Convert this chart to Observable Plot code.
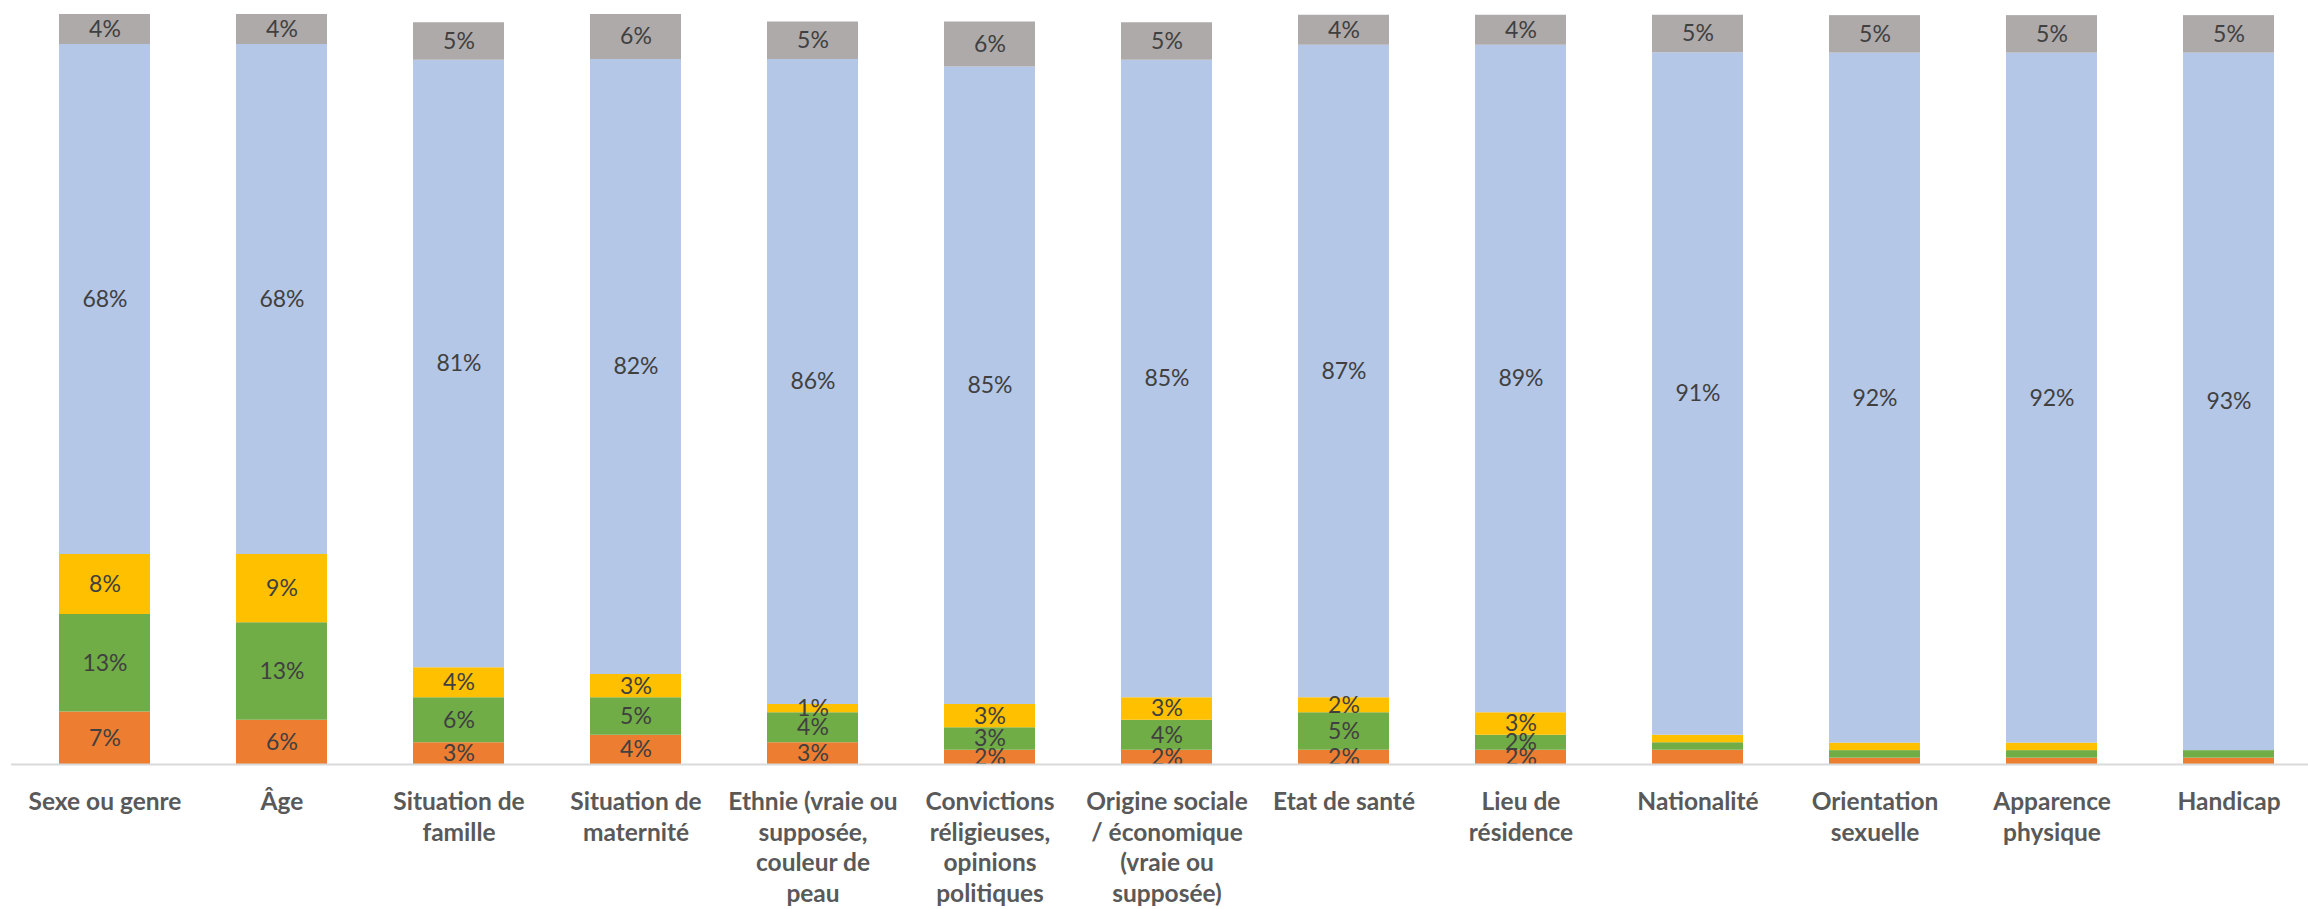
<!DOCTYPE html>
<html>
<head>
<meta charset="utf-8">
<script src="https://cdn.jsdelivr.net/npm/d3@7"></script>
<script src="https://cdn.jsdelivr.net/npm/@observablehq/plot@0.6"></script>
<style>
  html, body { margin: 0; padding: 0; background: #fff; }
  #chart svg { display: block; }
</style>
</head>
<body>
<div id="chart"></div>
<script>
// Categories (tick labels with their line breaks)
const categories = [
  "Sexe ou genre",
  "Âge",
  "Situation de\nfamille",
  "Situation de\nmaternité",
  "Ethnie (vraie ou\nsupposée,\ncouleur de\npeau",
  "Convictions\nréligieuses,\nopinions\npolitiques",
  "Origine sociale\n/ économique\n(vraie ou\nsupposée)",
  "Etat de santé",
  "Lieu de\nrésidence",
  "Nationalité",
  "Orientation\nsexuelle",
  "Apparence\nphysique",
  "Handicap"
];

// Series (bottom to top), values in %
const seriesNames = ["s1", "s2", "s3", "s4", "s5"];
const orangeValues = [7, 5.9, 2.9, 3.9, 2.9, 1.9, 1.9, 1.9, 1.9, 1.9, 0.85, 0.85, 0.85];
const greenValues  = [13, 13, 6, 5, 4, 3, 4, 5, 2, 1, 1, 1, 1];
const yellowValues = [8, 9.1, 4, 3.1, 1.1, 3.1, 3, 2, 3, 1, 1, 1, 0];
const blueValues   = [68, 68, 81, 82, 86, 85, 85, 87, 89, 91, 92, 92, 93];
const grayValues   = [4, 4, 5, 6, 5, 6, 5, 4, 4, 5, 5, 5, 5];

// whether the three bottom segments carry a data label
const smallLabelsShown = [true, true, true, true, true, true, true, true, true, false, false, false, false];

const seriesValues = [orangeValues, greenValues, yellowValues, blueValues, grayValues];
const seriesColors = ["#ED7D31", "#70AD47", "#FFC000", "#B4C7E7", "#AEAAAA"];

const data = [];
seriesNames.forEach((s, si) => {
  categories.forEach((c, ci) => {
    const v = seriesValues[si][ci];
    const show = si >= 3 || smallLabelsShown[ci];
    data.push({
      category: c,
      series: s,
      value: v,
      label: (show && v > 0) ? Math.round(v) + "%" : ""
    });
  });
});

const chart = Plot.plot({
  width: 2308,
  height: 909,
  marginTop: 14,
  marginBottom: 145,
  marginLeft: 11,
  marginRight: 0,
  style: { fontFamily: "Lato, 'Open Sans', sans-serif", background: "#fff" },
  x: {
    domain: categories,
    range: [11, 2322],
    paddingInner: 0.486,
    paddingOuter: 0.243,
    label: null
  },
  y: { domain: [0, 100], axis: null },
  color: { domain: seriesNames, range: seriesColors },
  marks: [
    Plot.barY(data, Plot.stackY({
      x: "category", y: "value", fill: "series", z: "series",
      inset: 0
    })),
    Plot.text(data, Plot.stackY({
      x: "category", y: "value", z: "series",
      text: "label", fill: "#404040", fontSize: 23
    })),
    Plot.ruleY([0], { stroke: "#d9d9d9", strokeWidth: 2 }),
    Plot.axisX({
      tickSize: 0,
      tickPadding: 24,
      fontSize: 24.5,
      fontWeight: "bold",
      fill: "#595959",
      lineHeight: 1.25,
      label: null
    })
  ]
});

document.getElementById("chart").appendChild(chart);
</script>
</body>
</html>
